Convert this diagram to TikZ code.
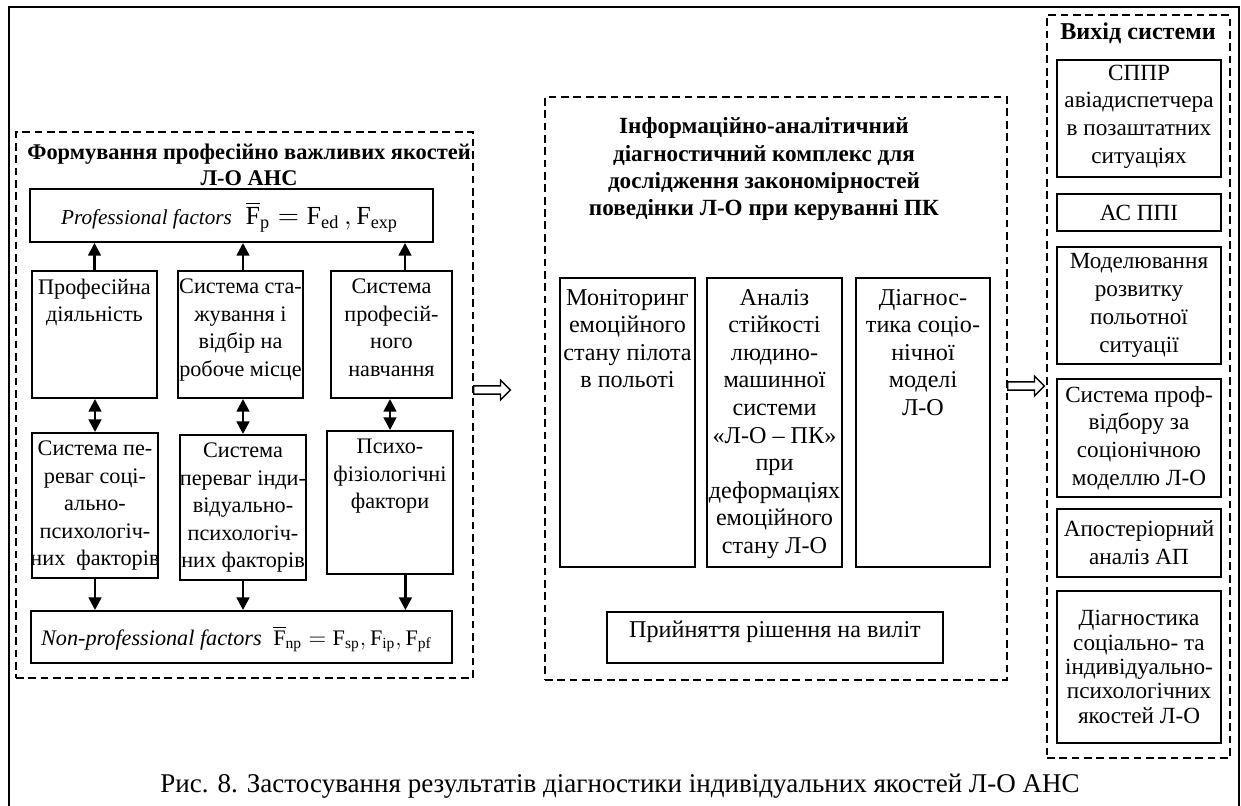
\documentclass[tikz,border=0pt]{standalone}
\usepackage{fontspec}
\setmainfont{Liberation Serif}
\usepackage{amsmath}
\usetikzlibrary{arrows.meta,positioning,fit,shapes.arrows}

\tikzset{
  cell/.style={draw, line width=1pt, inner sep=0pt},
  txt/.style={align=center, inner sep=1pt, font=\fontsize{12}{14.4}\selectfont},
  lefttxt/.style={txt, font=\fontsize{11.5}{14.2}\selectfont},
  midtxt/.style={txt, font=\fontsize{12.5}{14.3}\selectfont},
  head/.style={align=center, inner sep=1pt, font=\bfseries\fontsize{12}{14}\selectfont},
  group/.style={draw, line width=0.8pt, dash pattern=on 4pt off 2.4pt, inner sep=0pt},
  link/.style={line width=1.3pt, -{Triangle[width=6.5pt,length=6.5pt]}},
  twoway/.style={line width=1.3pt, {Triangle[width=6.5pt,length=6.5pt]}-{Triangle[width=6.5pt,length=6.5pt]}},
  flow/.style={single arrow, draw, line width=0.7pt, fill=white, minimum height=19pt,
    inner xsep=0pt, inner ysep=1.8pt, single arrow head extend=3pt},
}

\begin{document}
\begin{tikzpicture}[x=0.5178pt,y=-0.5178pt]
      \useasboundingbox (0,0) rectangle (1241,805);
      \draw[line width=1pt] (9,830) -- (9,7) -- (1239,7) -- (1239,830);

      \node[group, fit={(16,132) (473,678)}] (left) {};
      \node[group, fit={(545,97) (1007,680)}] (mid) {};
      \node[group, fit={(1047,15) (1230,758)}] (right) {};

      \node[head, font=\bfseries\fontsize{11.6}{13.5}\selectfont] (lefttitle) at (249,165) {Формування професійно важливих якостей\\Л-О АНС};
      \node[head] (midtitle) at (764,169) {Інформаційно-аналітичний\\діагностичний комплекс для\\дослідження закономірностей\\поведінки Л-О при керуванні ПК};
      \node[head, font=\bfseries\fontsize{12.5}{14}\selectfont] (righttitle) at (1138,33) {Вихід системи};

      \node[cell, fit={(30,189) (433,242)}] (prof) {};
      \node[txt] (proft) at ([xshift=-1pt,yshift=-1pt]prof.center) {{\fontsize{11}{13}\selectfont\textit{Professional factors}}\hspace{7pt}%
        {\fontsize{13.5}{15}\selectfont $\overline{\text{F}}_{\text{p}} = \text{F}_{\text{ed}}\,, \text{F}_{\text{exp}}$}};
      \node[cell, fit={(31,611) (452,663)}] (nonprof) {};
      \node[txt] (nonproft) at ([xshift=-2.6pt,yshift=-1pt]nonprof.center) {{\fontsize{11.5}{13}\selectfont\textit{Non-professional factors}}\hspace{6pt}%
        {\fontsize{11.5}{13}\selectfont $\overline{\text{F}}_{\text{np}} = \text{F}_{\text{sp}}, \text{F}_{\text{ip}}, \text{F}_{\text{pf}}$}};

      \node[cell, fit={(32,271) (157,398)}] (u1) {};
      \node[cell, fit={(178,271) (303,398)}] (u2) {};
      \node[cell, fit={(331,271) (452,398)}] (u3) {};
      \node[lefttxt, below=3.5pt of u1.north] (u1t) {Професійна\\діяльність};
      \node[lefttxt, below=3.5pt of u2.north] (u2t) {Система ста-\\жування і\\відбір на\\робоче місце};
      \node[lefttxt, below=3.5pt of u3.north] (u3t) {Система\\професій-\\ного\\навчання};

      \node[cell, fit={(32,433) (158,578)}] (l1) {};
      \node[cell, fit={(180,435) (306,580)}] (l2) {};
      \node[cell, fit={(327,431) (453,574)}] (l3) {};
      \node[lefttxt, below=3.5pt of l1.north] (l1t) {Система пе-\\реваг соці-\\ально-\\психологіч-\\них~ факторів};
      \node[lefttxt, below=3.5pt of l2.north] (l2t) {Система\\переваг інди-\\відуально-\\психологіч-\\них факторів};
      \node[lefttxt, below=3.5pt of l3.north] (l3t) {Психо-\\фізіологічні\\фактори};

      \draw[link] (u1.north) -- (u1.north |- prof.south);
      \draw[link] (l2.north |- u2.north) -- (l2.north |- prof.south);
      \draw[link] ([xshift=7pt]u3.north) -- ([xshift=7pt]u3.north |- prof.south);
      \foreach \i in {1,2,3}
        \draw[twoway] (l\i.north |- u\i.south) -- (l\i.north);
      \draw[link] (l1.south) -- (l1.south |- nonprof.north);
      \draw[link] (l2.south) -- (l2.south |- nonprof.north);
      \draw[link] ([xshift=8pt]l3.south) -- ([xshift=8pt]l3.south |- nonprof.north);

      \node[cell, fit={(560,278) (695,567)}] (m1) {};
      \node[cell, fit={(707,278) (842,567)}] (m2) {};
      \node[cell, fit={(856,278) (990,567)}] (m3) {};
      \node[midtxt, below=5pt of m1.north] (m1t) {Моніторинг\\емоційного\\стану пілота\\в польоті};
      \node[midtxt, below=5pt of m2.north] (m2t) {Аналіз\\стійкості\\людино-\\машинної\\системи\\«Л-О – ПК»\\при\\деформаціях\\емоційного\\стану Л-О};
      \node[midtxt, below=5pt of m3.north] (m3t) {Діагнос-\\тика соціо-\\нічної\\моделі\\Л-О};
      \node[cell, fit={(607,612) (943,663)}] (launch) {};
      \node[midtxt] (launcht) at (775,632) {Прийняття рішення на виліт};

      \node[cell, fit={(1057,60) (1221,177)}] (r1) {};
      \node[cell, fit={(1057,194) (1221,231)}] (r2) {};
      \node[cell, fit={(1057,247) (1221,364)}] (r3) {};
      \node[cell, fit={(1057,379) (1221,497)}] (r4) {};
      \node[cell, fit={(1057,509) (1221,577)}] (r5) {};
      \node[cell, fit={(1057,591) (1221,743)}] (r6) {};
      \node[txt] (r1t) at ([yshift=1pt]r1.center) {СППР\\авіадиспетчера\\в позаштатних\\ситуаціях};
      \node[txt] (r2t) at (r2.center) {АС ППІ};
      \node[txt] (r3t) at (r3.center) {Моделювання\\розвитку\\польотної\\ситуації};
      \node[txt] (r4t) at (r4.center) {Система проф-\\відбору за\\соціонічною\\моделлю Л-О};
      \node[txt] (r5t) at (r5.center) {Апостеріорний\\аналіз АП};
      \node[txt, font=\fontsize{12}{12.6}\selectfont] (r6t) at (r6.center) {Діагностика\\соціально- та\\індивідуально-\\психологічних\\якостей Л-О};

      \node[flow, anchor=tail] (toMid) at (473,390) {};
      \node[flow, anchor=tail] (toOut) at (1007,386) {};

      \node[txt, font=\fontsize{14}{16}\selectfont] (caption) at (620,786) {Рис. 8. Застосування результатів діагностики індивідуальних якостей Л-О АНС};
    \end{tikzpicture}
\end{document}
